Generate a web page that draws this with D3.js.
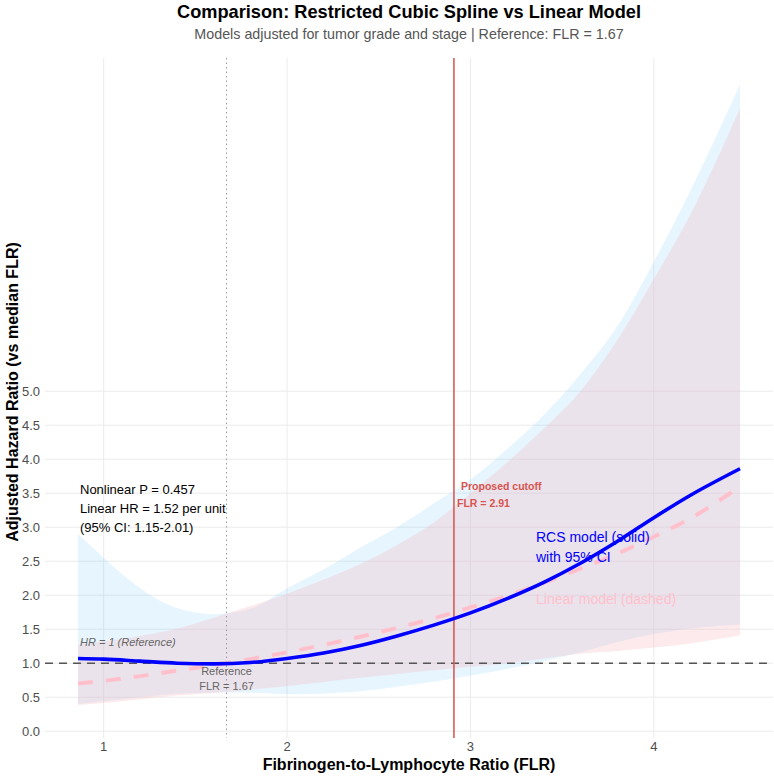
<!DOCTYPE html>
<html>
<head>
<meta charset="utf-8">
<script src="https://cdn.jsdelivr.net/npm/d3@7"></script>
<style>
  body { margin: 0; background: #fff; }
  text { font-family: "Liberation Sans", Arial, sans-serif; }
</style>
</head>
<body>
<div id="chart"></div>
<script>
// FLR grid the curves were read at
var flr = [0.86, 1.0, 1.2, 1.4, 1.6, 1.8, 2.0, 2.2, 2.4, 2.6, 2.8, 3.0, 3.2, 3.4, 3.6, 3.8, 4.0, 4.2, 4.47];

// restricted cubic spline fit + 95% CI
var rcsHR    = [1.07, 1.06, 1.03, 1.00, 0.99, 1.01, 1.07, 1.15, 1.26, 1.40, 1.56, 1.74, 1.95, 2.19, 2.47, 2.79, 3.14, 3.47, 3.86];
var rcsLower = [0.40, 0.44, 0.50, 0.55, 0.57, 0.565, 0.545, 0.556, 0.588, 0.653, 0.726, 0.818, 0.916, 1.03, 1.16, 1.31, 1.43, 1.51, 1.57];
var rcsUpper = [2.90, 2.55, 2.10, 1.81, 1.72, 1.80, 2.10, 2.38, 2.70, 3.00, 3.35, 3.70, 4.15, 4.65, 5.25, 5.95, 6.90, 7.95, 9.51];

// linear model fit + 95% CI
var linHR    = [0.70, 0.74, 0.81, 0.89, 0.97, 1.06, 1.16, 1.27, 1.39, 1.52, 1.66, 1.82, 1.99, 2.18, 2.39, 2.61, 2.86, 3.13, 3.60];
var linLower = [0.386, 0.415, 0.469, 0.525, 0.563, 0.611, 0.666, 0.723, 0.785, 0.843, 0.898, 0.946, 1.0, 1.07, 1.14, 1.18, 1.23, 1.29, 1.41];
var linUpper = [1.27, 1.32, 1.40, 1.51, 1.67, 1.84, 2.02, 2.23, 2.46, 2.74, 3.07, 3.50, 3.95, 4.45, 5.0, 5.75, 6.65, 7.6, 9.16];

var xTicks = [1, 2, 3, 4];
var yTicks = [0, 0.5, 1, 1.5, 2, 2.5, 3, 3.5, 4, 4.5, 5];
var refFLR = 1.67;
var cutFLR = 2.91;

var width = 774, height = 776;
var panel = { left: 45, right: 773, top: 58, bottom: 738 };

var svg = d3.select("#chart").append("svg")
    .attr("width", width)
    .attr("height", height);

var x = d3.scaleLinear().domain([0.68, 4.65]).range([panel.left, panel.right]);
var y = d3.scaleLinear().domain([-0.1, 9.9]).range([panel.bottom, panel.top]);

var rows = flr.map(function (f, i) {
    return {
        flr: f,
        rcs: rcsHR[i], rcsLo: rcsLower[i], rcsHi: rcsUpper[i],
        lin: linHR[i], linLo: linLower[i], linHi: linUpper[i]
    };
});

// grid
svg.append("g").selectAll("line")
    .data(yTicks).enter().append("line")
    .attr("x1", panel.left).attr("x2", panel.right)
    .attr("y1", function (d) { return y(d); })
    .attr("y2", function (d) { return y(d); })
    .attr("stroke", "#ebebeb").attr("stroke-width", 1);

svg.append("g").selectAll("line")
    .data(xTicks).enter().append("line")
    .attr("y1", panel.top).attr("y2", panel.bottom)
    .attr("x1", function (d) { return x(d); })
    .attr("x2", function (d) { return x(d); })
    .attr("stroke", "#ebebeb").attr("stroke-width", 1);

// ribbons
var curve = d3.curveMonotoneX;
var rcsArea = d3.area().curve(curve)
    .x(function (d) { return x(d.flr); })
    .y0(function (d) { return y(d.rcsLo); })
    .y1(function (d) { return y(d.rcsHi); });
var linArea = d3.area().curve(curve)
    .x(function (d) { return x(d.flr); })
    .y0(function (d) { return y(d.linLo); })
    .y1(function (d) { return y(d.linHi); });

svg.append("path").datum(rows)
    .attr("d", rcsArea)
    .attr("fill", "#87CEFA").attr("fill-opacity", 0.2);

svg.append("path").datum(rows)
    .attr("d", linArea)
    .attr("fill", "#F5B9C0").attr("fill-opacity", 0.3);

// reference lines
svg.append("line")
    .attr("x1", panel.left).attr("x2", panel.right)
    .attr("y1", y(1)).attr("y2", y(1))
    .attr("stroke", "#555").attr("stroke-width", 1.6)
    .attr("stroke-dasharray", "8,6");

svg.append("line")
    .attr("x1", x(refFLR)).attr("x2", x(refFLR))
    .attr("y1", panel.top).attr("y2", panel.bottom)
    .attr("stroke", "#999").attr("stroke-width", 1)
    .attr("stroke-dasharray", "1.5,3");

svg.append("line")
    .attr("x1", x(cutFLR)).attr("x2", x(cutFLR))
    .attr("y1", panel.top).attr("y2", panel.bottom)
    .attr("stroke", "#dc5a55").attr("stroke-width", 1.6);

// model lines
svg.append("path").datum(rows)
    .attr("d", d3.line().curve(curve)
        .x(function (d) { return x(d.flr); })
        .y(function (d) { return y(d.lin); }))
    .attr("fill", "none")
    .attr("stroke", "#FFC0CB").attr("stroke-width", 4)
    .attr("stroke-dasharray", "15,13");

svg.append("path").datum(rows)
    .attr("d", d3.line().curve(curve)
        .x(function (d) { return x(d.flr); })
        .y(function (d) { return y(d.rcs); }))
    .attr("fill", "none")
    .attr("stroke", "#0000FF").attr("stroke-width", 3.6);

// axes labels
svg.append("g").selectAll("text")
    .data(yTicks).enter().append("text")
    .attr("x", 40)
    .attr("y", function (d) { return y(d) + 5; })
    .attr("text-anchor", "end")
    .attr("font-size", 13).attr("fill", "#4d4d4d")
    .text(function (d) { return d.toFixed(1); });

svg.append("g").selectAll("text")
    .data(xTicks).enter().append("text")
    .attr("x", function (d) { return x(d); })
    .attr("y", 751)
    .attr("text-anchor", "middle")
    .attr("font-size", 13).attr("fill", "#4d4d4d")
    .text(function (d) { return d; });

svg.append("text")
    .attr("x", (panel.left + panel.right) / 2).attr("y", 770)
    .attr("text-anchor", "middle")
    .attr("font-size", 16).attr("font-weight", "bold")
    .text("Fibrinogen-to-Lymphocyte Ratio (FLR)");

svg.append("text")
    .attr("transform", "translate(18," + ((panel.top + panel.bottom) / 2 - 6) + ") rotate(-90)")
    .attr("text-anchor", "middle")
    .attr("font-size", 16).attr("font-weight", "bold")
    .text("Adjusted Hazard Ratio (vs median FLR)");

// titles
svg.append("text")
    .attr("x", (panel.left + panel.right) / 2).attr("y", 18)
    .attr("text-anchor", "middle")
    .attr("font-size", 18.2).attr("font-weight", "bold")
    .text("Comparison: Restricted Cubic Spline vs Linear Model");

svg.append("text")
    .attr("x", (panel.left + panel.right) / 2).attr("y", 39)
    .attr("text-anchor", "middle")
    .attr("font-size", 14.3).attr("fill", "#555")
    .text("Models adjusted for tumor grade and stage | Reference: FLR = 1.67");

// annotations
var statLines = ["Nonlinear P = 0.457", "Linear HR = 1.52 per unit", "(95% CI: 1.15-2.01)"];
svg.append("g").selectAll("text")
    .data(statLines).enter().append("text")
    .attr("x", 80)
    .attr("y", function (d, i) { return 494 + i * 19; })
    .attr("font-size", 13).attr("fill", "#000")
    .text(function (d) { return d; });

svg.append("text")
    .attr("x", 80).attr("y", 646)
    .attr("font-size", 11).attr("font-style", "italic").attr("fill", "#666")
    .text("HR = 1 (Reference)");

svg.append("text")
    .attr("x", x(refFLR)).attr("y", 675)
    .attr("text-anchor", "middle")
    .attr("font-size", 11).attr("fill", "#666")
    .text("Reference");
svg.append("text")
    .attr("x", x(refFLR)).attr("y", 690)
    .attr("text-anchor", "middle")
    .attr("font-size", 11).attr("fill", "#666")
    .text("FLR = 1.67");

svg.append("text")
    .attr("x", 461).attr("y", 490)
    .attr("font-size", 10.5).attr("font-weight", "bold").attr("fill", "#d9534f")
    .text("Proposed cutoff");
svg.append("text")
    .attr("x", 457).attr("y", 507)
    .attr("font-size", 10.5).attr("font-weight", "bold").attr("fill", "#d9534f")
    .text("FLR = 2.91");

svg.append("text")
    .attr("x", 536).attr("y", 542)
    .attr("font-size", 14).attr("fill", "#0000FF")
    .text("RCS model (solid)");
svg.append("text")
    .attr("x", 536).attr("y", 562)
    .attr("font-size", 14).attr("fill", "#0000FF")
    .text("with 95% CI");
svg.append("text")
    .attr("x", 536).attr("y", 604)
    .attr("font-size", 14).attr("fill", "#FFC0CB")
    .text("Linear model (dashed)");
</script>
</body>
</html>
